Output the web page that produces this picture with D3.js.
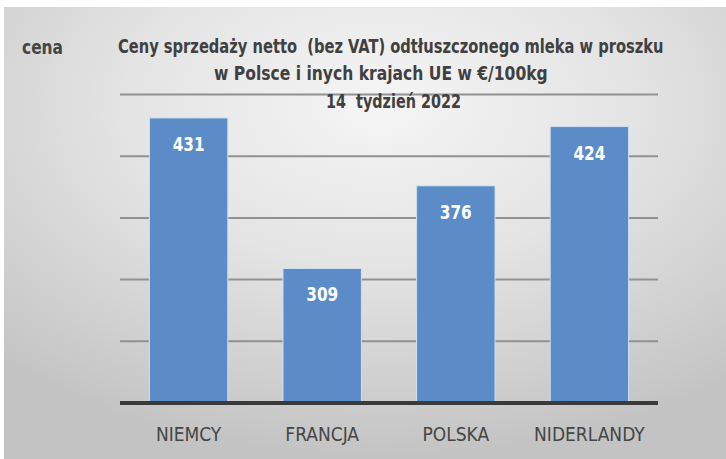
<!DOCTYPE html>
<html>
<head>
<meta charset="utf-8">
<script src="https://cdn.jsdelivr.net/npm/d3@7"></script>
<style>
  body { margin: 0; background: #fff; }
  svg { display: block; }
</style>
</head>
<body>
<div id="chart"></div>
<script>
var W = 726,
    H = 459,
    FONT = "'Liberation Sans Narrow', 'DejaVu Sans Condensed', 'Open Sans', sans-serif"

// data
var countries = ["NIEMCY", "FRANCJA", "POLSKA", "NIDERLANDY"],
    prices = [431, 309, 376, 424],
    gridTicks = [250, 300, 350, 400, 450],
    titleLines = [
        "Ceny sprzedaży netto  (bez VAT) odtłuszczonego mleka w proszku",
        "w Polsce i inych krajach UE w €/100kg",
        "14  tydzień 2022"
    ]

// where each title line starts and how wide it runs (the original font is narrow)
var titleX = [118, 214, 326],
    titleW = [546, 334, 135]

var margin = {left: 120, right: 68, top: 94.5, bottom: 56}

var x = d3.scaleBand()
    .domain(countries)
    .range([margin.left, W - margin.right])
    .paddingInner(0.413)
    .paddingOuter(0.22)

var y = d3.scaleLinear()
    .domain([200, 450])
    .range([H - margin.bottom, margin.top])

var svg = d3.select("#chart").append("svg")
    .attr("width", W)
    .attr("height", H)

var defs = svg.append("defs")
var grad = defs.append("radialGradient")
    .attr("id", "bg")
    .attr("cx", "52%").attr("cy", "22%")
    .attr("r", "78%")
grad.append("stop").attr("offset", "0").attr("stop-color", "#f5f5f5")
grad.append("stop").attr("offset", "0.45").attr("stop-color", "#e4e4e4")
grad.append("stop").attr("offset", "1").attr("stop-color", "#c3c3c3")

// panel
svg.append("rect")
    .attr("x", 4).attr("y", 7)
    .attr("width", W - 4).attr("height", H - 7)
    .style("fill", "url(#bg)")

// gridlines
svg.append("g")
    .selectAll("line")
    .data(gridTicks)
    .join("line")
    .attr("x1", margin.left)
    .attr("x2", W - margin.right)
    .attr("y1", d => y(d))
    .attr("y2", d => y(d))
    .style("stroke", "#919191")
    .style("stroke-width", 2)

// bars
svg.append("g")
    .selectAll("rect")
    .data(prices)
    .join("rect")
    .attr("x", (d, i) => x(countries[i]))
    .attr("width", x.bandwidth())
    .attr("y", d => y(d))
    .attr("height", d => y(200) - y(d))
    .style("fill", "#5b8cc8")
    .style("stroke", "#cfe0f2")
    .style("stroke-width", 1)

// baseline
svg.append("line")
    .attr("x1", margin.left)
    .attr("x2", W - margin.right)
    .attr("y1", y(200))
    .attr("y2", y(200))
    .style("stroke", "#3a3a3a")
    .style("stroke-width", 4)

// narrow a text horizontally with a transform; the text sits at (0,0)
// and gets moved to (px, py). anchor decides which point stays put.
function narrow(el, px, py, k) {
    d3.select(el).attr("transform",
        "translate(" + px + "," + py + ") scale(" + k + ",1)")
}

// value labels
svg.append("g")
    .selectAll("text")
    .data(prices)
    .join("text")
    .attr("text-anchor", "middle")
    .style("font-family", FONT)
    .style("font-weight", "bold")
    .style("font-size", "20px")
    .style("fill", "#fff")
    .text(d => d)
    .each(function(d, i) {
        narrow(this, x(countries[i]) + x.bandwidth() / 2, y(d) + 33, 0.85)
    })

// category labels
svg.append("g")
    .selectAll("text")
    .data(countries)
    .join("text")
    .attr("x", d => x(d) + x.bandwidth() / 2)
    .attr("y", y(200) + 38)
    .attr("text-anchor", "middle")
    .style("font-family", FONT)
    .style("font-size", "19px")
    .style("fill", "#454545")
    .text(d => d)

// title
svg.append("g")
    .selectAll("text")
    .data(titleLines)
    .join("text")
    .style("font-family", FONT)
    .style("font-weight", "bold")
    .style("font-size", "19.5px")
    .style("fill", "#404040")
    .style("white-space", "pre")
    .text(d => d)
    .each(function(d, i) {
        var len = this.getComputedTextLength()
        narrow(this, titleX[i], 52.5 + i * 27.5, titleW[i] / len)
    })

svg.append("text")
    .style("font-family", FONT)
    .style("font-weight", "bold")
    .style("font-size", "19.5px")
    .style("fill", "#454545")
    .text("cena")
    .each(function() { narrow(this, 22, 54, 0.88) })
</script>
</body>
</html>
